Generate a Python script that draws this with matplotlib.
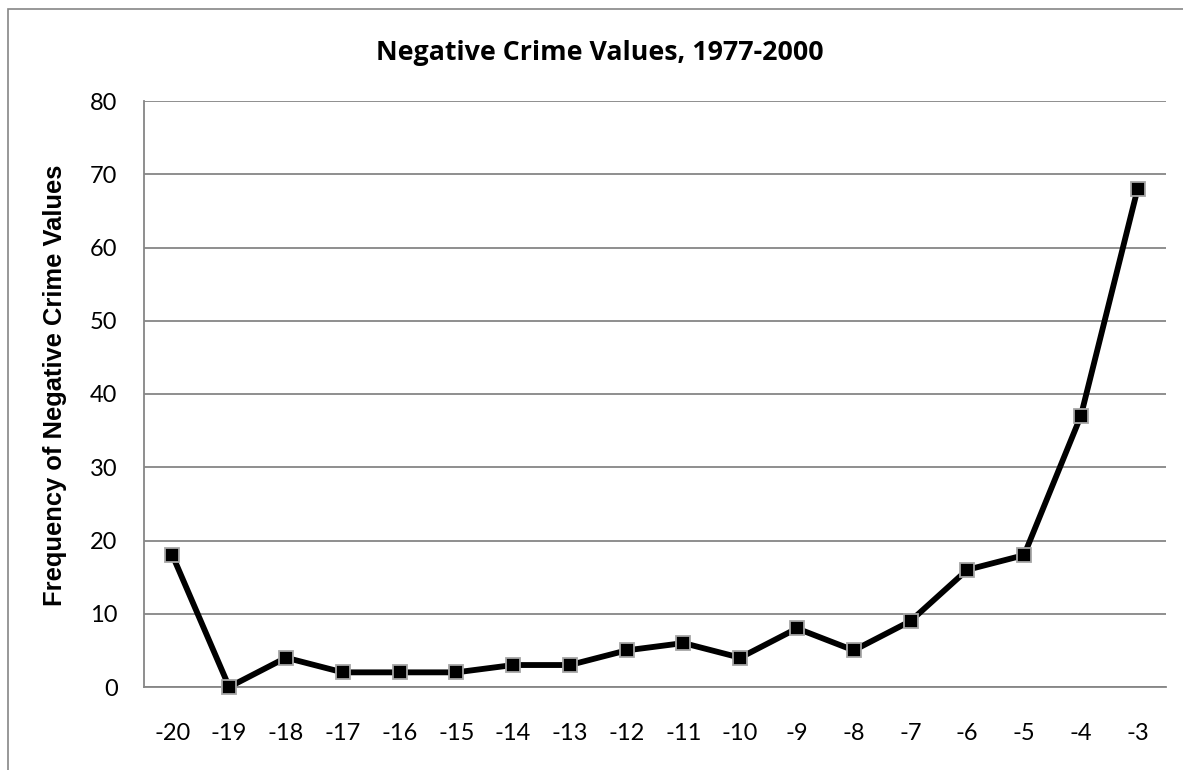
import matplotlib
matplotlib.use("Agg")
import matplotlib.pyplot as plt
from matplotlib.patches import Rectangle

# crime value bins and how often each one turned up
crime_values = [-20, -19, -18, -17, -16, -15, -14, -13, -12, -11,
                -10, -9, -8, -7, -6, -5, -4, -3]
frequency = [18, 0, 4, 2, 2, 2, 3, 3, 5, 6, 4, 8, 5, 9, 16, 18, 37, 68]
y_ticks = [0, 10, 20, 30, 40, 50, 60, 70, 80]

W, H = 1183, 770
fig = plt.figure(figsize=(W / 100, H / 100), dpi=100)

# outer chart border (runs off the right/bottom edge)
fig.patches.append(Rectangle((8 / W, -0.05), 1.2, 1 - 9 / H + 0.05,
                             transform=fig.transFigure, fill=False,
                             edgecolor="#868686", linewidth=1.2))

left, right, top, bottom = 144, 1166, 101, 687
ax = fig.add_axes([left / W, 1 - bottom / H, (right - left) / W, (bottom - top) / H])

x = list(range(len(crime_values)))
ax.plot(x, frequency, color="black", linewidth=4.2, marker="s", markersize=9.5,
        markerfacecolor="black", markeredgecolor="#a6a6a6",
        markeredgewidth=1.3, solid_joinstyle="miter", clip_on=False, zorder=3)

ax.set_xlim(-0.5, len(crime_values) - 0.5)
ax.set_ylim(0, 80)
ax.set_yticks(y_ticks)
ax.set_xticks(x)
ax.set_xticklabels([str(v) for v in crime_values])
ax.yaxis.grid(True, color="#868686", linewidth=1.3)
ax.set_axisbelow(True)

for s in ["top", "right"]:
    ax.spines[s].set_visible(False)
for s in ["left", "bottom"]:
    ax.spines[s].set_color("#868686")
    ax.spines[s].set_linewidth(1.3)

ax.tick_params(axis="both", length=0, labelsize=17)
ax.tick_params(axis="x", pad=26)
ax.tick_params(axis="y", pad=19)
for lbl in ax.get_xticklabels() + ax.get_yticklabels():
    lbl.set_fontfamily("Lato")

fig.text(600 / W, 1 - 53 / H, "Negative Crime Values, 1977-2000",
         ha="center", va="center", fontsize=19.3, fontweight="bold",
         family="Open Sans")
fig.text(55 / W, 1 - 385 / H, "Frequency of Negative Crime Values",
         ha="center", va="center", rotation=90, fontsize=18.4,
         fontweight="bold", family="Liberation Sans")

fig.savefig("out.png", dpi=100)
